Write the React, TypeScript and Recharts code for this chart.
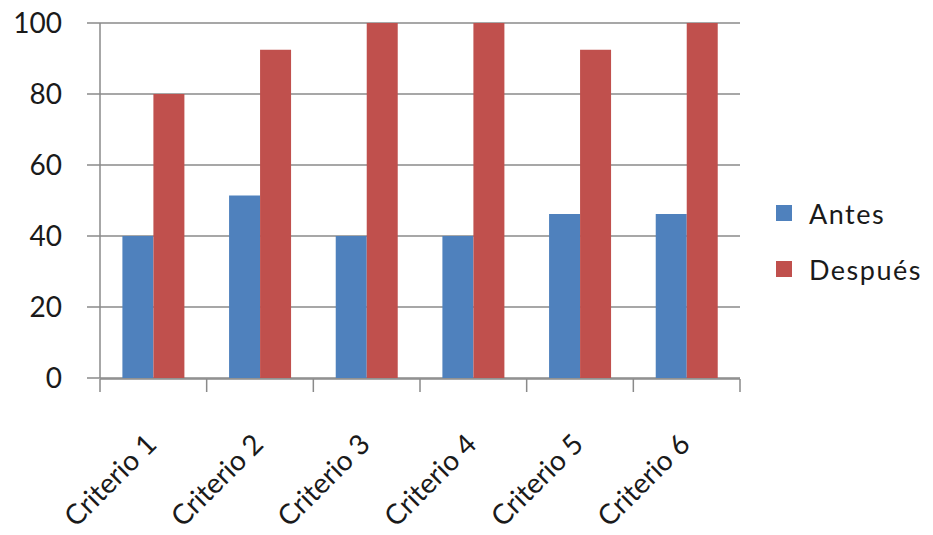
import React from "react";
import {
  BarChart,
  Bar,
  XAxis,
  YAxis,
  CartesianGrid,
  Legend,
} from "recharts";

// Categories and series
const categories = [
  "Criterio 1",
  "Criterio 2",
  "Criterio 3",
  "Criterio 4",
  "Criterio 5",
  "Criterio 6",
];
const antes = [40, 51.4, 40, 40, 46.2, 46.2];
const despues = [80, 92.5, 100, 100, 92.5, 100];
const yTicks = [0, 20, 40, 60, 80, 100];
const boundaryTicks = [0, 1, 2, 3, 4, 5, 6];

const BLUE = "#4F81BD";
const RED = "#C0504D";
const GRID = "#8A8A8A";
const TEXT = "#1a1a1a";
const FONT = "Lato, 'Open Sans', sans-serif";

// pos = category slot centre, used by the numeric axis that draws the boundary ticks
const data = categories.map((name, i) => ({
  name,
  pos: i + 0.5,
  Antes: antes[i],
  Despues: despues[i],
}));

/**
 * Rotated category label, anchored at its end
 */
function CategoryTick(props: any) {
  const { x, y, payload } = props;
  return (
    <g transform={`translate(${x + 5},${y + 60})`}>
      <text
        x={0}
        y={0}
        textAnchor="end"
        transform="rotate(-45)"
        fill={TEXT}
        fontSize={28}
        fontFamily={FONT}
      >
        {payload.value}
      </text>
    </g>
  );
}

/**
 * Legend drawn at the right, outside the plot
 */
function LegendBox() {
  const items = [
    { label: "Antes", color: BLUE },
    { label: "Después", color: RED },
  ];
  return (
    <div style={{ fontFamily: FONT, fontSize: 27, color: TEXT }}>
      {items.map((it) => (
        <div
          key={it.label}
          style={{ display: "flex", alignItems: "center", height: 56 }}
        >
          <span
            style={{
              display: "inline-block",
              width: 16,
              height: 16,
              background: it.color,
              marginRight: 17,
            }}
          />
          <span style={{ letterSpacing: 1.5 }}>{it.label}</span>
        </div>
      ))}
    </div>
  );
}

export default function App() {
  return (
    <div style={{ position: "fixed", left: 0, top: 0, background: "#fff" }}>
      <BarChart
        width={933}
        height={535}
        data={data}
        margin={{ top: 23, right: 193, bottom: 7, left: 0 }}
        barCategoryGap="21%"
        barGap={0}
      >
        <CartesianGrid
          vertical={false}
          stroke={GRID}
          strokeWidth={1.5}
          yAxisId="y"
          xAxisId="cat"
        />
        <XAxis
          xAxisId="cat"
          dataKey="name"
          height={1}
          axisLine={false}
          tickLine={false}
          interval={0}
          tick={<CategoryTick />}
        />
        <XAxis
          xAxisId="edges"
          type="number"
          dataKey="pos"
          domain={[0, 6]}
          ticks={boundaryTicks}
          interval={0}
          height={149}
          tickFormatter={() => ""}
          tickSize={13}
          tickLine={{ stroke: GRID, strokeWidth: 1.5 }}
          stroke={GRID}
          strokeWidth={1.5}
          allowDataOverflow
        />
        <YAxis
          yAxisId="y"
          domain={[0, 100]}
          ticks={yTicks}
          width={100}
          tickSize={13}
          tickMargin={25}
          stroke={GRID}
          strokeWidth={1.5}
          tick={{ fontSize: 28, fill: TEXT, fontFamily: FONT }}
        />
        <Legend
          layout="horizontal"
          verticalAlign="middle"
          align="center"
          content={<LegendBox />}
          wrapperStyle={{ left: 776, top: 185, width: 157, height: 112 }}
        />
        <Bar
          xAxisId="cat"
          yAxisId="y"
          dataKey="Antes"
          fill={BLUE}
          isAnimationActive={false}
        />
        <Bar
          xAxisId="cat"
          yAxisId="y"
          dataKey="Despues"
          name="Después"
          fill={RED}
          isAnimationActive={false}
        />
      </BarChart>
    </div>
  );
}
